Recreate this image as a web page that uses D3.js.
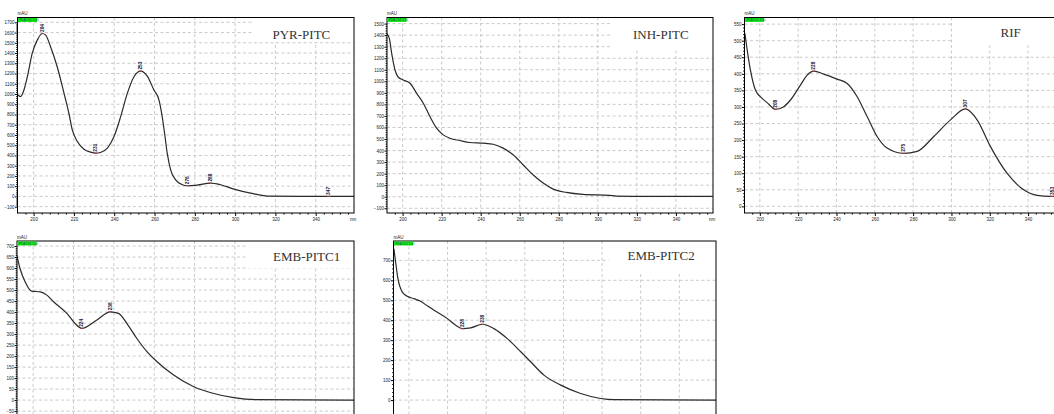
<!DOCTYPE html>
<html><head><meta charset="utf-8">
<script src="https://cdn.jsdelivr.net/npm/d3@7"></script>
<style>body{margin:0;background:#fff}svg{display:block}</style>
</head><body><svg id="c" width="1054" height="414"></svg>
<script>
// ---------- DATA ----------
const titles = ["PYR-PITC", "INH-PITC", "RIF", "EMB-PITC1", "EMB-PITC2"];
const xTicks = [200, 220, 240, 260, 280, 300, 320, 340];
const xTickLabels = ["200", "220", "240", "260", "280", "300", "320", "340"];

const pyrNm  = [192.2,193.5,195.2,196.9,199.3,201.8,204.3,206.0,208.4,211.7,215.1,217.5,219.2,221.7,225.0,228.3,230.8,233.2,236.6,239.9,243.2,246.5,249.8,253.1,256.4,259.7,262.2,263.8,265.0,266.3,268.0,270.5,273.8,276.3,281.2,287.8,292.8,299.4,307.7,317.6,332.5,346.5,359.3];
const pyrAbs = [990,974,1039,1169,1396,1526,1591,1575,1461,1266,1006,812,649,536,461,432,422,429,471,584,779,1006,1169,1224,1175,1039,942,779,617,422,260,162,114,104,110,130,114,71,32,2,0,0,0];
const pyrYTicks = [-100,0,100,200,300,400,500,600,700,800,900,1000,1100,1200,1300,1400,1500,1600,1700];
const pyrPeakNm  = [204.3, 230.8, 253.1, 276.3, 287.8, 346.5];
const pyrPeakAbs = [1591, 422, 1224, 104, 130, 0];

const inhNm  = [191.8,193.2,194.4,196.1,197.8,200.3,203.8,207.2,210.6,214.0,217.4,220.8,224.2,229.3,234.4,241.3,246.4,251.5,256.6,261.7,266.8,272.0,277.1,283.9,292.4,306.1,309.5,326.5,358.9];
const inhAbs = [1415,1372,1242,1098,1035,1012,983,896,810,695,594,536,507,487,470,464,455,421,363,277,190,118,66,37,20,12,6,3,3];
const inhYTicks = [-100,0,100,200,300,400,500,600,700,800,900,1000,1100,1200,1300,1400,1500];

const rifNm  = [192.2,193.4,195.1,197.7,201.2,203.8,208.2,212.5,216.0,221.2,224.7,228.2,233.4,240.3,245.6,250.8,256.0,261.2,266.4,275.1,282.1,290.8,299.5,307.3,313.4,320.3,329.0,337.7,344.7,351.6,359.3];
const rifAbs = [522,472,411,351,326,313,293,301,321,366,396,408,399,384,371,331,271,211,176,160,166,211,261,294,261,181,100,50,33,30,30];
const rifYTicks = [0,50,100,150,200,250,300,350,400,450,500,550];
const rifPeakNm  = [208.2, 228.2, 275.1, 307.3, 352.5];
const rifPeakAbs = [293, 408, 160, 294, 30];

const emb1Nm  = [191.9,193.5,196.0,199.3,203.5,206.8,210.1,216.7,220.8,224.1,231.6,238.2,242.3,246.5,251.4,256.4,261.4,269.6,279.6,289.5,299.4,311.0,359.3];
const emb1Abs = [659,598,538,495,492,477,447,394,348,326,364,401,394,348,280,220,174,114,61,30,11,2,0];
const emb1YTicks = [-50,0,50,100,150,200,250,300,350,400,450,500,550,600,650,700];
const emb1PeakNm  = [224.1, 238.2];
const emb1PeakAbs = [326, 401];

const emb2Nm  = [192.2,193.1,194.3,196.5,199.1,202.6,206.0,209.5,213.0,219.9,224.2,227.6,232.0,238.0,244.0,250.9,257.9,263.0,269.9,278.6,288.9,299.3,306.2,359.4];
const emb2Abs = [758,692,608,542,520,508,495,472,450,408,375,358,362,380,358,308,242,192,125,75,33,8,2,0];
const emb2YTicks = [0,100,200,300,400,500,600,700];
const emb2PeakNm  = [227.6, 238.0];
const emb2PeakAbs = [358, 380];

// ---------- LAYOUT ----------
const W = 1054, H = 414;
const xDomain = [192, 359];
const panels = [
  {title: titles[0], nm: pyrNm, abs: pyrAbs, yTicks: pyrYTicks, pkNm: pyrPeakNm, pkAbs: pyrPeakAbs,
   left: 17.5, top: 17.5, right: 354, bottom: 213, yDomain: [-162, 1747], tx: 255, ty: 21, box: [236, 24]},
  {title: titles[1], nm: inhNm, abs: inhAbs, yTicks: inhYTicks, pkNm: [], pkAbs: [],
   left: 387, top: 17.5, right: 713, bottom: 213, yDomain: [-141, 1553], tx: 246, ty: 21, box: [223, 30]},
  {title: titles[2], nm: rifNm, abs: rifAbs, yTicks: rifYTicks, pkNm: rifPeakNm, pkAbs: rifPeakAbs,
   left: 744.5, top: 17.5, right: 1064.5, bottom: 213, yDomain: [-20, 570], tx: 256, ty: 19, box: [209, 27]},
  {title: titles[3], nm: emb1Nm, abs: emb1Abs, yTicks: emb1YTicks, pkNm: emb1PeakNm, pkAbs: emb1PeakAbs,
   left: 17, top: 241, right: 354, bottom: 432, yDomain: [-145, 723], tx: 256, ty: 20, box: [230, 27]},
  {title: titles[4], nm: emb2Nm, abs: emb2Abs, yTicks: emb2YTicks, pkNm: emb2PeakNm, pkAbs: emb2PeakAbs,
   left: 393.5, top: 241, right: 716, bottom: 432, yDomain: [-160, 797], tx: 234, ty: 19, box: [215, 30]}
];

const svg = d3.select("#c");
const tickFont = "Liberation Sans, Arial, sans-serif";

panels.forEach((p, i) => {
  const g = svg.append("g");
  const x = d3.scaleLinear().domain(xDomain).range([p.left, p.right]);
  const y = d3.scaleLinear().domain(p.yDomain).range([p.bottom, p.top]);

  g.append("rect").attr("x", p.left).attr("y", p.top)
    .attr("width", p.right - p.left).attr("height", p.bottom - p.top).attr("fill", "#fff");

  // grid
  g.append("g").selectAll("line").data(xTicks).join("line")
    .attr("x1", d => x(d)).attr("x2", d => x(d))
    .attr("y1", p.top).attr("y2", p.bottom)
    .attr("stroke", "#bdbdbd").attr("stroke-width", 0.8).attr("stroke-dasharray", "3,2.5");
  g.append("g").selectAll("line").data(p.yTicks).join("line")
    .attr("x1", p.left).attr("x2", p.right)
    .attr("y1", d => y(d)).attr("y2", d => y(d))
    .attr("stroke", "#bdbdbd").attr("stroke-width", 0.8).attr("stroke-dasharray", "3,2.5");

  // white area behind the title
  g.append("rect").attr("x", p.left + p.box[0]).attr("y", p.top + 0.5)
    .attr("width", p.right - p.left - p.box[0]).attr("height", p.box[1]).attr("fill", "#fff");

  // clip
  const cid = "clip" + i;
  svg.append("clipPath").attr("id", cid).append("rect")
    .attr("x", p.left).attr("y", p.top).attr("width", p.right - p.left).attr("height", p.bottom - p.top);

  const pts = p.nm.map((d, k) => [d, p.abs[k]]);
  const line = d3.line().x(d => x(d[0])).y(d => y(d[1])).curve(d3.curveMonotoneX);
  g.append("path").datum(pts).attr("d", line).attr("clip-path", `url(#${cid})`)
    .attr("fill", "none").attr("stroke", "#2a2a2a").attr("stroke-width", 1.2);

  // peak markers
  const pk = g.append("g");
  p.pkNm.forEach((n, k) => {
    const px = x(n), py = y(p.pkAbs[k]);
    pk.append("line").attr("x1", px - 1.5).attr("x2", px + 1.5).attr("y1", py).attr("y2", py)
      .attr("stroke", "#d04040").attr("stroke-width", 0.8);
    pk.append("text").attr("transform", `translate(${px + 1.6},${py - 1.5}) rotate(-90)`)
      .attr("font-family", tickFont).attr("font-size", 4.8).attr("font-weight", "bold").attr("fill", "#1a1a40")
      .text(Math.round(n));
  });

  // frame
  g.append("rect").attr("x", p.left).attr("y", p.top)
    .attr("width", p.right - p.left).attr("height", p.bottom - p.top)
    .attr("fill", "none").attr("stroke", "#000").attr("stroke-width", 1);

  // axes
  const yStep = p.yTicks[1] - p.yTicks[0];
  const yMinor = [];
  for (let k = 0; k < p.yTicks.length - 1; k++)
    for (let m = 1; m < 5; m++) yMinor.push(p.yTicks[k] + yStep * m / 5);
  const ya = g.append("g").attr("transform", `translate(${p.left},0)`)
    .call(d3.axisLeft(y).tickValues(p.yTicks).tickSize(2.5).tickFormat(d3.format("d")));
  ya.select(".domain").remove();
  ya.selectAll("text").attr("font-size", 4.5).attr("font-family", tickFont).attr("fill", "#222").attr("x", -3);
  ya.selectAll("line").attr("stroke", "#000");
  const ym = g.append("g").attr("transform", `translate(${p.left},0)`)
    .call(d3.axisLeft(y).tickValues(yMinor).tickSize(1.3).tickFormat(""));
  ym.select(".domain").remove();

  if (p.bottom < H) {
    const xMinor = [];
    for (let v = 196; v <= 356; v += 4) if (!xTicks.includes(v)) xMinor.push(v);
    const xa = g.append("g").attr("transform", `translate(0,${p.bottom})`)
      .call(d3.axisBottom(x).tickValues(xTicks).tickSize(3).tickFormat((d, k) => xTickLabels[k]));
    xa.select(".domain").remove();
    xa.selectAll("text").attr("font-size", 4.5).attr("font-family", tickFont).attr("fill", "#222").attr("y", 4.5);
    const xm = g.append("g").attr("transform", `translate(0,${p.bottom})`)
      .call(d3.axisBottom(x).tickValues(xMinor).tickSize(1.6).tickFormat(""));
    xm.select(".domain").remove();
    if (p.right < W) {
      g.append("text").attr("x", p.right - 4).attr("y", p.bottom + 7.5)
        .attr("font-size", 4.5).attr("font-family", tickFont).attr("fill", "#222").text("nm");
    }
  }

  // mAU + green channel box
  g.append("text").attr("x", p.left).attr("y", p.top - 2.5)
    .attr("font-size", 4.5).attr("font-family", tickFont).attr("fill", "#222").text("mAU");
  g.append("rect").attr("x", p.left + 0.5).attr("y", p.top + 0.5).attr("width", 19).attr("height", 4)
    .attr("fill", "#19e619");
  g.append("text").attr("x", p.left + 2).attr("y", p.top + 3.8)
    .attr("font-size", 3).attr("font-family", tickFont).attr("fill", "#064").text("PDA Ch1 1.00");

  // title
  g.append("text").attr("x", p.left + p.tx).attr("y", p.top + p.ty)
    .attr("font-family", "Liberation Serif, Times New Roman, serif").attr("font-size", 13)
    .attr("fill", "#333").text(p.title);
});
</script></body></html>
